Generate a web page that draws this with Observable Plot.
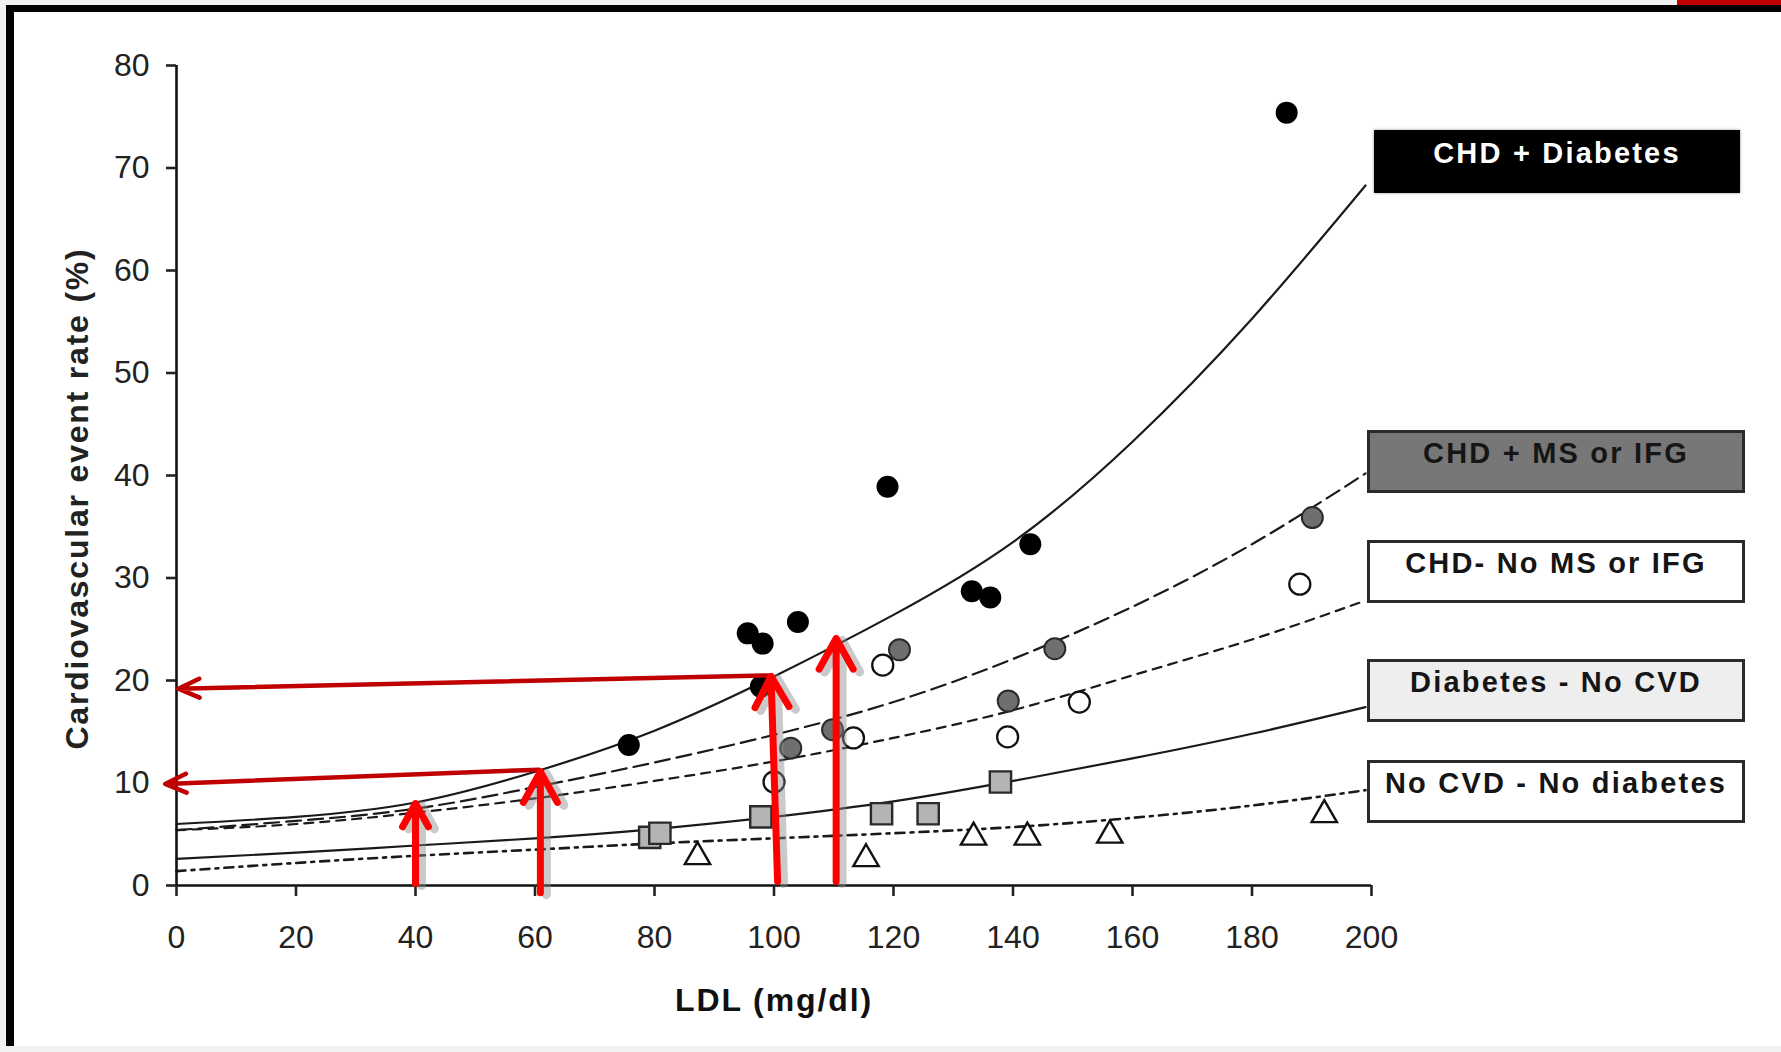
<!DOCTYPE html>
<html><head><meta charset="utf-8">
<script src="https://cdn.jsdelivr.net/npm/d3@7"></script>
<script src="https://cdn.jsdelivr.net/npm/@observablehq/plot@0.6"></script>
<style>
html,body{margin:0;padding:0;background:#f1f1f1;width:1781px;height:1052px;overflow:hidden;font-family:"Liberation Sans",Arial,sans-serif;}
#page{position:absolute;left:14px;top:12px;width:1767px;height:1034px;background:#fff;}
.bar{position:absolute;}
.box{position:absolute;box-sizing:border-box;border:3px solid #2b2b2b;font-weight:bold;font-size:29px;letter-spacing:2.2px;line-height:29px;text-align:center;color:#151515;padding-top:6px;white-space:nowrap;}
</style></head><body>
<div class="bar" style="left:1677px;top:0;width:104px;height:5px;background:#c00000"></div>
<div class="bar" style="left:6px;top:5px;width:1775px;height:7px;background:#000"></div>
<div class="bar" style="left:6px;top:5px;width:8px;height:1041px;background:#000"></div>
<div id="page"></div>
<div id="legend"></div>
<script>
// ---- axis ticks ----
const xTicks = [0, 20, 40, 60, 80, 100, 120, 140, 160, 180, 200];
const yTicks = [0, 10, 20, 30, 40, 50, 60, 70, 80];
const xTitle = "LDL (mg/dl)";
const yTitle = "Cardiovascular event rate (%)";

// ---- series names ----
const seriesNames = ["CHD + Diabetes", "CHD + MS or IFG", "CHD- No MS or IFG", "Diabetes - No CVD", "No CVD - No diabetes"];

// ---- observed points ----
const chdDiabX = [75.7, 95.6, 98.1, 97.8, 104.0, 119.0, 133.1, 136.2, 142.9, 185.8];
const chdDiabY = [13.7, 24.6, 23.6, 19.4, 25.7, 38.9, 28.7, 28.1, 33.3, 75.4];
const chdMsX = [102.8, 109.8, 121.0, 139.2, 147.0, 190.1];
const chdMsY = [13.4, 15.2, 23.0, 18.0, 23.1, 35.9];
const chdNoMsX = [100.0, 113.3, 118.2, 139.1, 151.1, 188.0];
const chdNoMsY = [10.1, 14.4, 21.5, 14.5, 17.9, 29.4];
const diabX = [79.2, 80.9, 97.8, 118.0, 125.8, 137.9];
const diabY = [4.7, 5.1, 6.7, 7.0, 7.0, 10.1];
const noCvdX = [87.2, 115.4, 133.4, 142.4, 156.2, 192.1];
const noCvdY = [2.8, 2.6, 4.7, 4.7, 4.9, 6.9];

// ---- fitted curves ----
const curveX = [0, 20, 40, 60, 80, 100, 120, 140, 160, 180, 199];
const chdDiabCurve = [6.0, 6.7, 8.1, 11.1, 15.1, 20.4, 26.4, 33.5, 43.3, 55.3, 68.3];
const chdMsCurve = [5.4, 6.3, 7.5, 9.6, 12.0, 14.7, 17.9, 22.1, 27.2, 33.3, 40.2];
const chdNoMsCurve = [5.4, 6.0, 7.1, 8.5, 10.2, 12.1, 14.4, 17.1, 20.5, 24.0, 27.8];
const diabCurve = [2.6, 3.2, 3.9, 4.6, 5.5, 6.7, 8.2, 10.2, 12.4, 14.8, 17.4];
const noCvdCurve = [1.4, 2.2, 2.9, 3.5, 4.1, 4.6, 5.1, 5.7, 6.6, 7.8, 9.3];

// ---- red annotation arrows ----
const hArrowX1 = [99.5, 60.7], hArrowY1 = [20.5, 11.3], hArrowX2 = [0.3, -1.9], hArrowY2 = [19.2, 9.9];
const vArrowX1 = [40.0, 60.9, 100.6, 110.4], vArrowY1 = [0.2, -0.7, 0.4, 0.4];
const vArrowX2 = [40.0, 60.9, 99.5, 110.4], vArrowY2 = [8.0, 11.1, 20.4, 24.1];

// ---- build tables ----
const pts = (xs, ys) => xs.map((x, i) => ({x, y: ys[i]}));
const curve = ys => curveX.map((x, i) => ({x, y: ys[i]}));
const arrows = (x1, y1, x2, y2) => x1.map((_, i) => ({x1: x1[i], y1: y1[i], x2: x2[i], y2: y2[i]}));

const lineStyle = {x: "x", y: "y", curve: "natural", stroke: "#1a1a1a", strokeWidth: 2.2};

const plot = Plot.plot({
  width: 1767, height: 1034,
  marginLeft: 162, marginRight: 410, marginTop: 53, marginBottom: 161,
  x: {domain: [0, 200]},
  y: {domain: [0, 80]},
  style: {fontFamily: "'Liberation Sans', Arial, sans-serif", background: "transparent", overflow: "visible"},
  marks: [
    Plot.line(curve(chdDiabCurve), {...lineStyle}),
    Plot.line(curve(chdMsCurve), {...lineStyle, strokeDasharray: "15,7"}),
    Plot.line(curve(chdNoMsCurve), {...lineStyle, strokeDasharray: "9,7"}),
    Plot.line(curve(diabCurve), {...lineStyle}),
    Plot.line(curve(noCvdCurve), {...lineStyle, strokeWidth: 2.6, strokeDasharray: "9,6,3,6"}),
    Plot.dot(pts(noCvdX, noCvdY), {x: "x", y: "y", symbol: "triangle", r: 9.4, fill: "white", stroke: "#111", strokeWidth: 2.4}),
    Plot.dot(pts(diabX, diabY), {x: "x", y: "y", symbol: "square", r: 12, fill: "#b4b4b4", stroke: "#2a2a2a", strokeWidth: 2.4}),
    Plot.dot(pts(chdNoMsX, chdNoMsY), {x: "x", y: "y", r: 10.5, fill: "white", stroke: "#111", strokeWidth: 2.3}),
    Plot.dot(pts(chdMsX, chdMsY), {x: "x", y: "y", r: 10.5, fill: "#6f6f6f", stroke: "#2a2a2a", strokeWidth: 2}),
    Plot.dot(pts(chdDiabX, chdDiabY), {x: "x", y: "y", r: 11, fill: "#000"}),
    Plot.ruleX([0], {stroke: "#111", strokeWidth: 2.6}),
    Plot.ruleY([0], {stroke: "#111", strokeWidth: 2.6}),
    Plot.axisX({ticks: xTicks, tickSize: 11, tickPadding: 29, fontSize: 32, color: "#222", strokeWidth: 2.6, label: null}),
    Plot.axisY({ticks: yTicks, tickSize: 10, tickPadding: 17, fontSize: 32, color: "#222", strokeWidth: 2.6, label: null}),
    Plot.text([yTitle], {text: d => d, frameAnchor: "left", textAnchor: "middle", dx: -99, dy: 23, rotate: -90, fontSize: 32, fontWeight: "bold", fill: "#222", lineAnchor: "middle"}),
    Plot.text([xTitle], {text: d => d, frameAnchor: "bottom", textAnchor: "middle", dy: 115, fontSize: 32, fontWeight: "bold", fill: "#111", lineAnchor: "middle"}),
    // arrow shadows
    Plot.arrow(arrows(vArrowX1, vArrowY1, vArrowX2, vArrowY2), {x1: "x1", y1: "y1", x2: "x2", y2: "y2", stroke: "#8a8a8a", strokeOpacity: 0.45, strokeWidth: 9, headLength: 6, headAngle: 58, dx: 6, dy: 2}),
    Plot.arrow(arrows(hArrowX1, hArrowY1, hArrowX2, hArrowY2), {x1: "x1", y1: "y1", x2: "x2", y2: "y2", stroke: "#c00000", strokeWidth: 4.5, headLength: 7.7, headAngle: 48, strokeLinecap: "round"}),
    Plot.arrow(arrows(vArrowX1, vArrowY1, vArrowX2, vArrowY2), {x1: "x1", y1: "y1", x2: "x2", y2: "y2", stroke: "#ff0000", strokeWidth: 7, headLength: 7.5, headAngle: 58, strokeLinecap: "round"})
  ]
});
d3.select(plot).selectAll("text").filter(function() { return this.textContent === yTitle; }).style("letter-spacing", "1.8px");
d3.select(plot).selectAll("text").filter(function() { return this.textContent === xTitle; }).style("letter-spacing", "1.9px");
document.getElementById("page").appendChild(plot);

// ---- legend boxes ----
const boxFill = ["#000", "#777777", "#ffffff", "#eeeeee", "#ffffff"];
const boxText = ["#ffffff", "#151515", "#151515", "#151515", "#151515"];
const boxLeft = [1374, 1367, 1367, 1367, 1367];
const boxTop = [130, 430, 540, 659, 760];
const boxW = [366, 378, 378, 378, 378];
const legend = document.getElementById("legend");
seriesNames.forEach((name, i) => {
  const d = document.createElement("div");
  d.className = "box";
  d.textContent = name;
  Object.assign(d.style, {
    left: boxLeft[i] + "px", top: boxTop[i] + "px", width: boxW[i] + "px", height: "63px",
    background: boxFill[i], color: boxText[i],
    borderColor: i === 0 ? "#000" : "#2b2b2b",
    boxShadow: i === 0 ? "0 0 3px #999" : "none"
  });
  legend.appendChild(d);
});
</script>
</body></html>
